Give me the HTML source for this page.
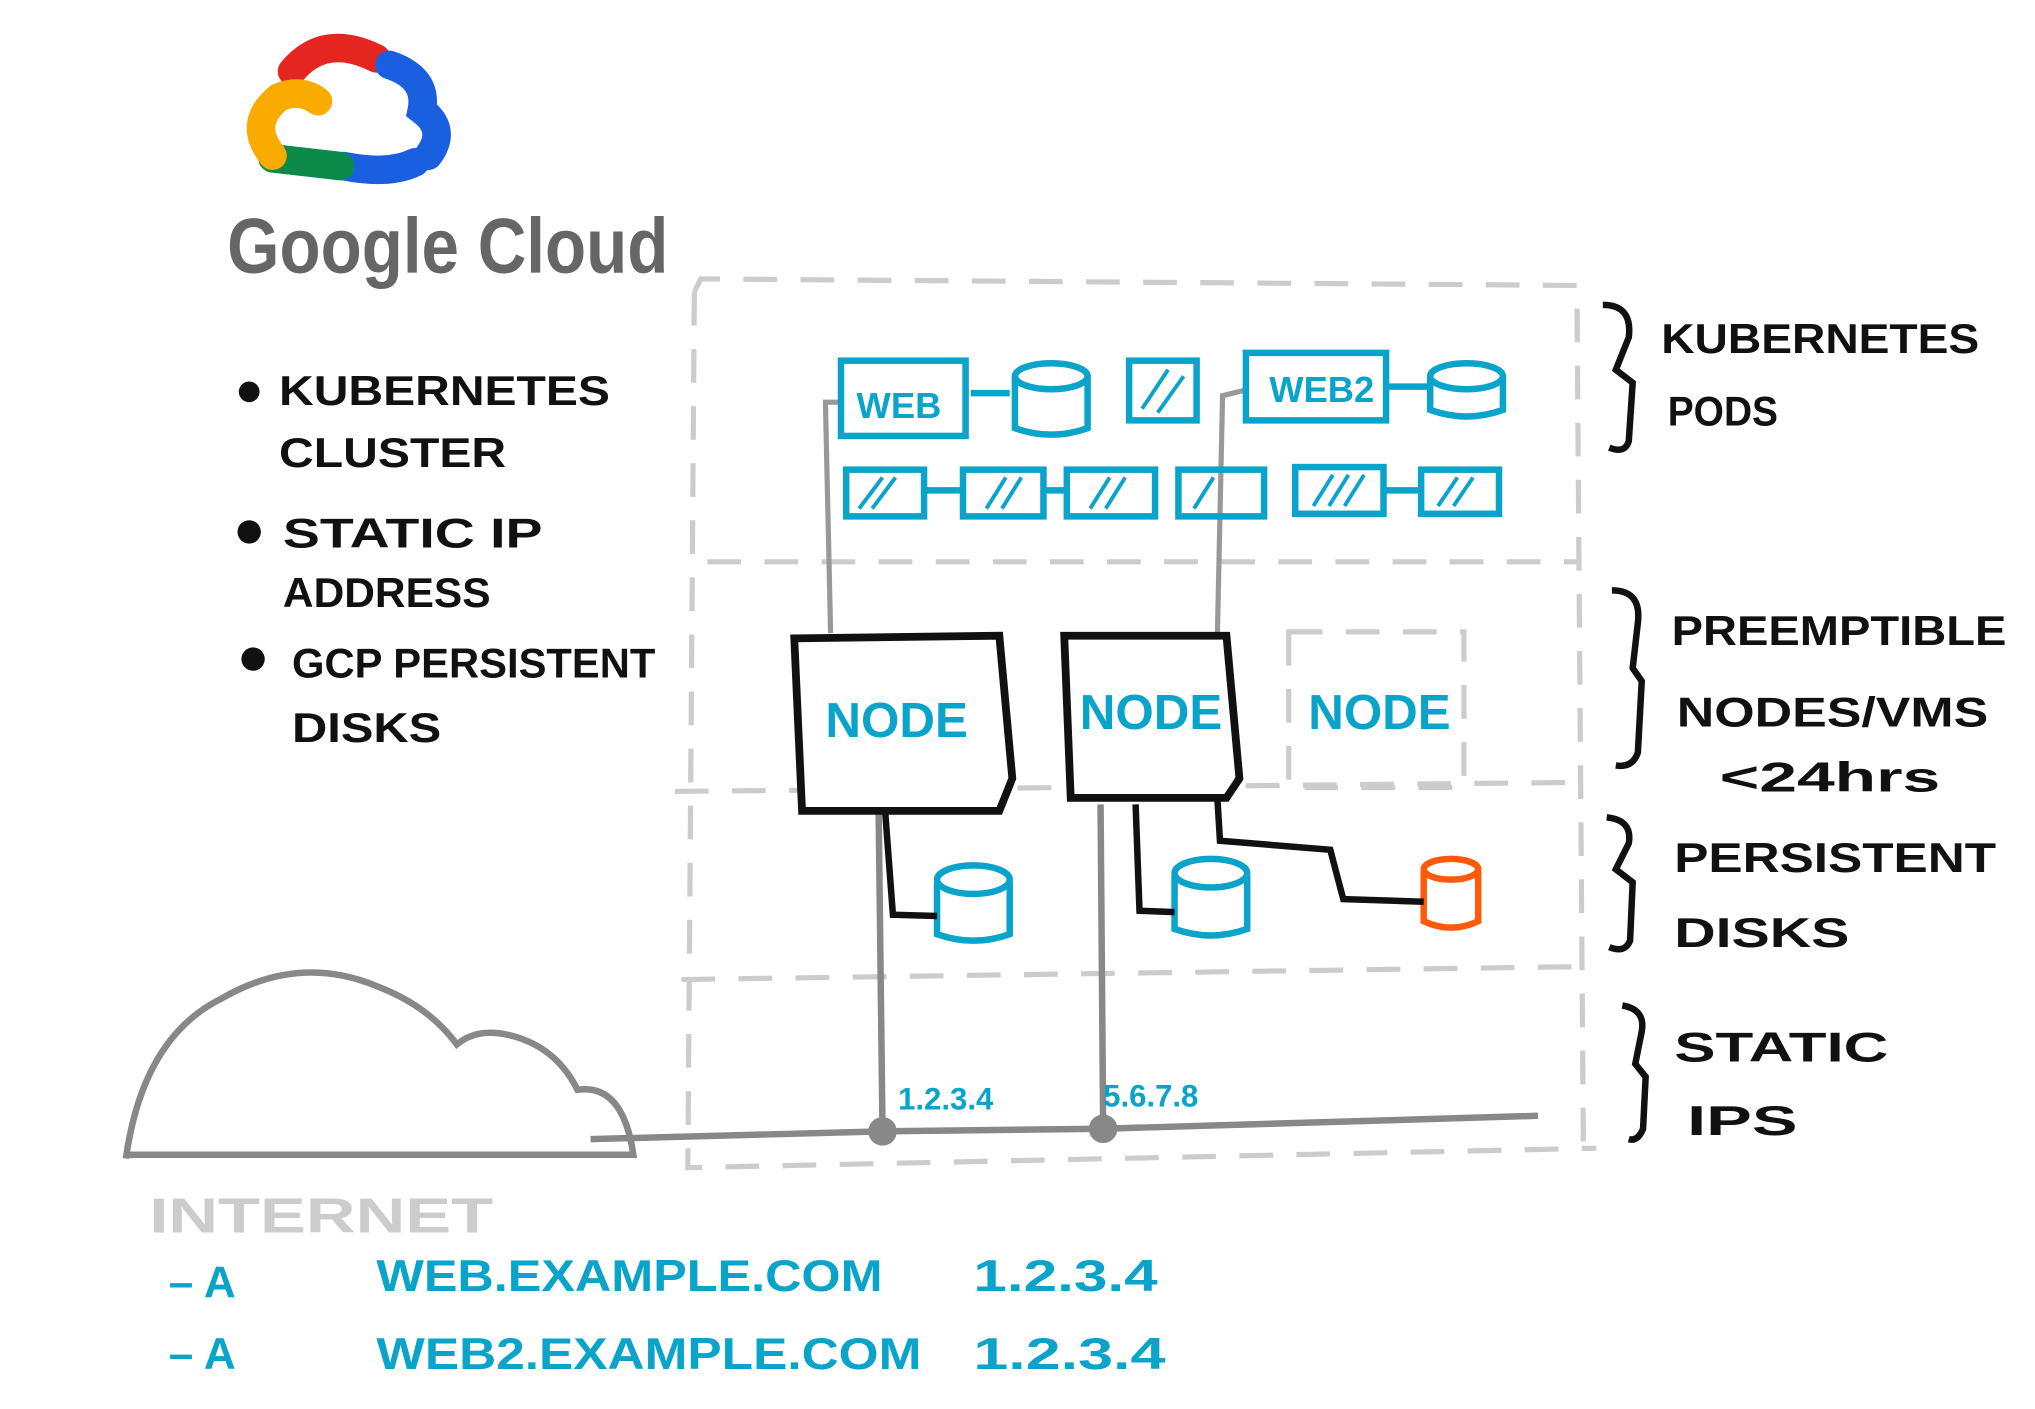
<!DOCTYPE html>
<html><head><meta charset="utf-8"><style>
html,body{margin:0;padding:0;background:#fff;width:2035px;height:1409px;overflow:hidden}
svg{display:block}
text{font-family:"Liberation Sans",sans-serif;font-weight:bold}
</style></head><body>
<svg width="2035" height="1409" viewBox="0 0 1568 1086" preserveAspectRatio="none" xmlns="http://www.w3.org/2000/svg">
<g fill="none" stroke-linecap="round" stroke-width="22">
<path d="M225 55 Q250 25 290 45" stroke="#e5251f"/>
<path d="M300 50 Q330 60 325 85 Q345 100 330 120" stroke="#1a5fe0"/>
<path d="M320 125 Q300 135 265 128" stroke="#1a5fe0"/>
<path d="M262 128 L210 122" stroke="#0b8a4a"/>
<path d="M210 120 Q190 95 215 75 Q232 68 245 78" stroke="#f9ab00"/>
</g>
<text x="175" y="210" font-size="60" fill="#666" font-weight="normal" textLength="340" lengthAdjust="spacingAndGlyphs">Google Cloud</text>
<g font-size="32" fill="#111">
<circle cx="192" cy="302" r="8" fill="#111"/>
<text x="215" y="312" textLength="255" lengthAdjust="spacingAndGlyphs">KUBERNETES</text>
<text x="215" y="360" textLength="175" lengthAdjust="spacingAndGlyphs">CLUSTER</text>
<circle cx="192" cy="410" r="9" fill="#111"/>
<text x="218" y="422" textLength="200" lengthAdjust="spacingAndGlyphs">STATIC  IP</text>
<text x="218" y="468" textLength="160" lengthAdjust="spacingAndGlyphs">ADDRESS</text>
<circle cx="195" cy="508" r="9" fill="#111"/>
<text x="225" y="522" textLength="280" lengthAdjust="spacingAndGlyphs">GCP PERSISTENT</text>
<text x="225" y="572" textLength="115" lengthAdjust="spacingAndGlyphs">DISKS</text>
</g>
<g fill="none" stroke="#ccc" stroke-width="4" stroke-dasharray="26 18">
<path d="M535 225 L540 215 L1215 220 L1220 880"/>
<path d="M535 225 L530 900 L1230 885"/>
<path d="M545 433 L1215 433"/>
<path d="M520 610 L1220 603"/>
<path d="M525 755 L1220 745"/>
<rect x="993" y="487" width="135" height="120"/>
</g>
<g fill="none" stroke="#999" stroke-width="4">
<path d="M648 310 L636 310 L640 488"/>
<path d="M962 300 L942 305 L938 490"/>
</g>
<g fill="none" stroke="#0aa3c9" stroke-width="5">
<rect x="648" y="278" width="96" height="58"/>
<line x1="748" y1="303" x2="778" y2="303"/>
<rect x="870" y="278" width="52" height="46"/>
<rect x="960" y="272" width="108" height="52"/>
<line x1="1070" y1="298" x2="1100" y2="298"/>
<rect x="652" y="362" width="60" height="36"/><line x1="712" y1="378" x2="742" y2="378"/>
<rect x="742" y="362" width="62" height="36"/><line x1="804" y1="378" x2="822" y2="378"/>
<rect x="822" y="362" width="68" height="36"/>
<rect x="908" y="362" width="66" height="36"/>
<rect x="998" y="360" width="68" height="36"/><line x1="1066" y1="378" x2="1095" y2="378"/>
<rect x="1095" y="362" width="60" height="34"/>
<g stroke-width="3">
<path d="M880 315 L900 285 M892 318 L912 290 M662 392 L680 368 M672 392 L690 368 M760 392 L775 368 M772 392 L787 368 M840 392 L855 368 M852 392 L867 368 M920 392 L935 368 M1012 390 L1027 366 M1024 390 L1039 366 M1036 390 L1051 366 M1108 390 L1123 368 M1120 390 L1135 368"/>
</g>
</g>
<g fill="#fff" stroke="#0aa3c9" stroke-width="5">
<path d="M782 290 L782 330 Q810 340 838 330 L838 290"/><ellipse cx="810" cy="290" rx="28" ry="10"/>
<path d="M1102 290 L1102 316 Q1130 326 1158 316 L1158 290"/><ellipse cx="1130" cy="290" rx="28" ry="10"/>
<path d="M722 680 L722 720 Q750 730 778 720 L778 680"/><ellipse cx="750" cy="678" rx="28" ry="11"/>
<path d="M905 675 L905 716 Q933 726 961 716 L961 675"/><ellipse cx="933" cy="673" rx="28" ry="11"/>
</g>
<g fill="#fff" stroke="#ff5a0a" stroke-width="5">
<path d="M1097 672 L1097 710 Q1118 720 1139 710 L1139 672"/><ellipse cx="1118" cy="670" rx="21" ry="8"/>
</g>
<g fill="#0aa3c9" font-size="28">
<text x="660" y="322">WEB</text>
<text x="978" y="310">WEB2</text>
</g>
<g fill="none" stroke="#111" stroke-width="5">
<path d="M682 625 L688 705 L722 706"/>
<path d="M875 620 L878 702 L905 703"/>
<path d="M938 615 L940 648 L1025 655 L1035 693 L1097 695"/>
</g>
<g fill="none" stroke="#888" stroke-width="5">
<path d="M677 625 L680 872"/>
<path d="M848 620 L850 870"/>
<path d="M455 878 L680 872 L850 870 L1185 860"/>
</g>
<circle cx="680" cy="872" r="11" fill="#888"/>
<circle cx="850" cy="870" r="11" fill="#888"/>
<g fill="#fff" stroke="#111" stroke-width="6">
<path d="M612 492 L770 490 L780 600 L770 625 L618 625 Z"/>
<path d="M820 490 L945 490 L955 600 L945 615 L825 615 Z"/>
</g>
<g fill="#0aa3c9" font-size="38">
<text x="636" y="568">NODE</text>
<text x="832" y="562">NODE</text>
<text x="1008" y="562">NODE</text>
</g>
<g fill="#0aa3c9" font-size="24">
<text x="692" y="855">1.2.3.4</text>
<text x="850" y="853">5.6.7.8</text>
</g>
<path d="M97 893 Q110 800 170 770 Q230 735 290 760 Q330 775 352 805 Q370 790 400 800 Q430 810 445 840 Q480 835 488 890 L97 890" fill="none" stroke="#888" stroke-width="5"/>
<text x="115" y="950" font-size="38" fill="#ccc" font-weight="normal" textLength="265" lengthAdjust="spacingAndGlyphs">INTERNET</text>
<g fill="#0aa3c9" font-size="34">
<text x="130" y="1000">– A</text><text x="290" y="995" textLength="390" lengthAdjust="spacingAndGlyphs">WEB.EXAMPLE.COM</text><text x="750" y="995" textLength="142" lengthAdjust="spacingAndGlyphs">1.2.3.4</text>
<text x="130" y="1055">– A</text><text x="290" y="1055" textLength="420" lengthAdjust="spacingAndGlyphs">WEB2.EXAMPLE.COM</text><text x="750" y="1055" textLength="148" lengthAdjust="spacingAndGlyphs">1.2.3.4</text>
</g>
<g fill="none" stroke="#111" stroke-width="5">
<path d="M1235 235 Q1258 235 1255 260 L1245 285 L1258 295 L1255 340 Q1252 350 1240 345"/>
<path d="M1242 455 Q1265 455 1262 480 L1258 515 L1265 525 L1262 580 Q1258 592 1245 590"/>
<path d="M1238 630 Q1258 632 1255 650 L1245 670 L1258 680 L1256 725 Q1252 735 1240 730"/>
<path d="M1250 775 Q1268 778 1265 795 L1260 820 L1268 830 L1266 870 Q1262 880 1255 878"/>
</g>
<g fill="#111" font-size="32">
<text x="1280" y="272" textLength="245" lengthAdjust="spacingAndGlyphs">KUBERNETES</text>
<text x="1285" y="328" textLength="85" lengthAdjust="spacingAndGlyphs">PODS</text>
<text x="1288" y="497" textLength="258" lengthAdjust="spacingAndGlyphs">PREEMPTIBLE</text>
<text x="1292" y="560" textLength="240" lengthAdjust="spacingAndGlyphs">NODES/VMS</text>
<text x="1325" y="610" textLength="170" lengthAdjust="spacingAndGlyphs">&lt;24hrs</text>
<text x="1290" y="672" textLength="248" lengthAdjust="spacingAndGlyphs">PERSISTENT</text>
<text x="1290" y="730" textLength="135" lengthAdjust="spacingAndGlyphs">DISKS</text>
<text x="1290" y="818" textLength="165" lengthAdjust="spacingAndGlyphs">STATIC</text>
<text x="1300" y="875" textLength="85" lengthAdjust="spacingAndGlyphs">IPS</text>
</g>
</svg>
</body></html>
